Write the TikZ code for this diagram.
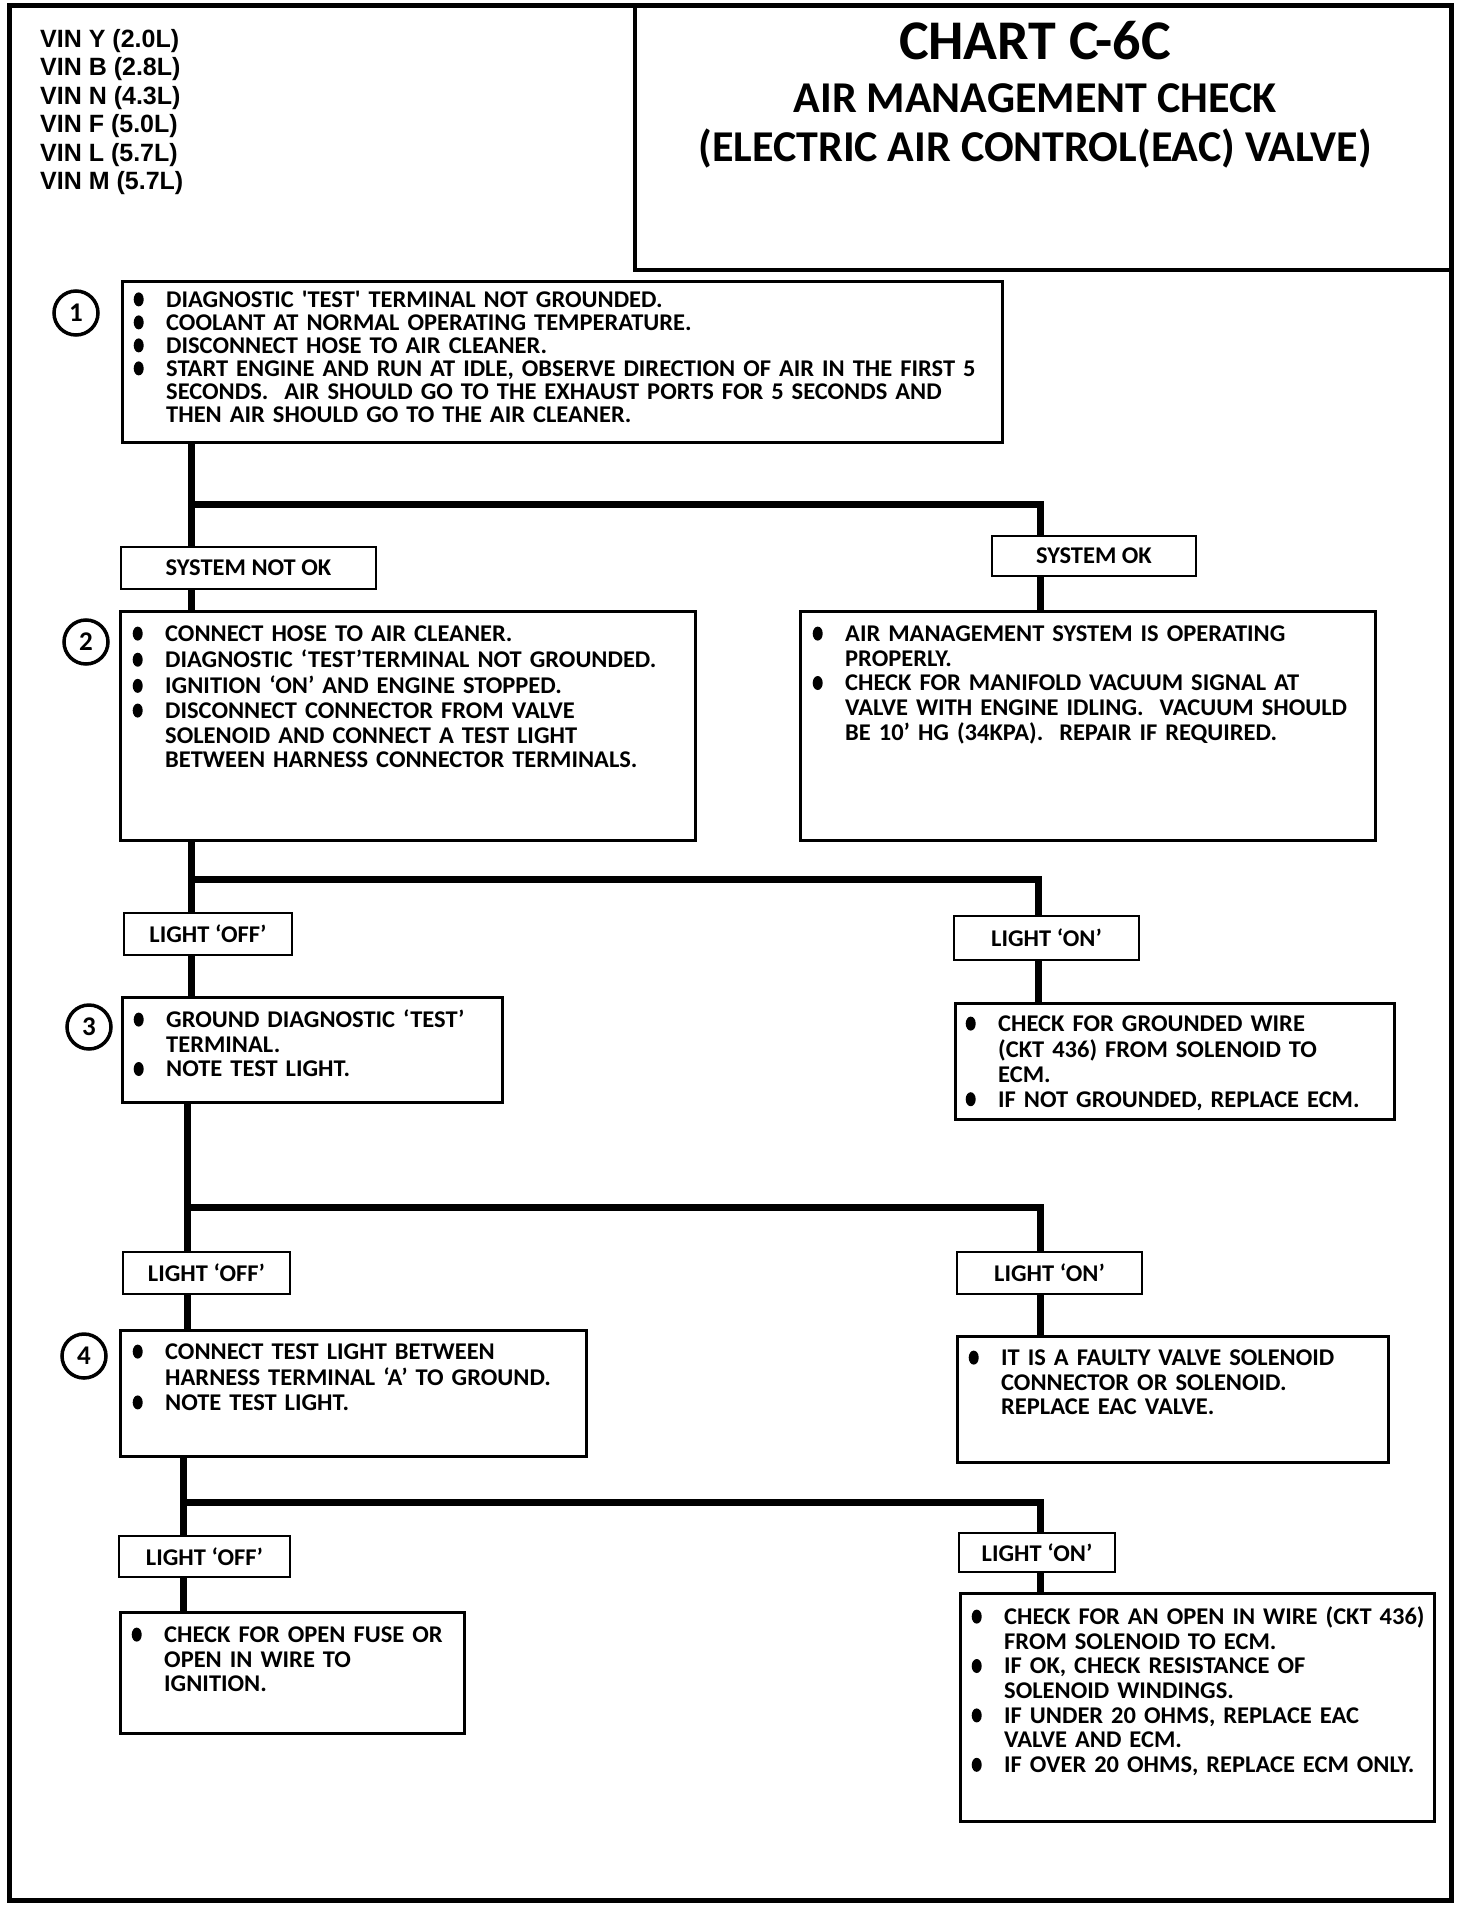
\documentclass[tikz,border=0pt]{standalone}
\usepackage{fontspec}
\newfontfamily\chartfont{Carlito}[FakeStretch=1.02]
\newfontfamily\titlefont{Carlito}
\newfontfamily\vinfont{Liberation Sans}
\usetikzlibrary{positioning}
\newcommand{\tightspaces}{\spaceskip=4.3pt plus 1pt minus 0.5pt\relax}
\newcommand{\stepdot}{\raisebox{0.8pt}{\tikz\fill (0,0) ellipse [x radius=5pt, y radius=7pt];}}
\newcommand{\itm}[1]{\par\noindent\hangindent=33pt\hangafter=1%
  \makebox[33pt][l]{\hspace{0.5pt}\stepdot}\strut#1\par}

\begin{document}
\begin{tikzpicture}[x=1pt, y=-1pt,
  frame/.style={line width=5pt},
  titlebox/.style={line width=3.5pt},
  stepbox/.style={draw, line width=2.5pt, anchor=north west, inner sep=0pt},
  steptext/.style={anchor=north west, inner sep=0pt, text width=#1, align=left,
    font=\chartfont\bfseries\fontsize{24}{24.7}\selectfont\tightspaces},
  tight/.style={font=\chartfont\bfseries\fontsize{24}{23}\selectfont\tightspaces},
  choice/.style={draw, line width=2.5pt, inner sep=0pt,
    font=\chartfont\bfseries\fontsize{24}{25}\selectfont},
  stepnum/.style={draw, circle, line width=3.5pt, minimum size=44pt, inner sep=0pt,
    font=\titlefont\bfseries\fontsize{27}{27}\selectfont},
  heading/.style={anchor=base, inner sep=0pt, font=\titlefont\bfseries\fontsize{#1}{#1}\selectfont},
  vintext/.style={anchor=north west, inner sep=0pt, align=left,
    font=\vinfont\bfseries\fontsize{25}{28.5}\selectfont},
  trunk/.style={line width=7pt, line join=miter}
]
  \path[use as bounding box, fill=white] (0,0) rectangle (1472,1924);

  % ── Frame and title block ──
  \draw[frame] (9,6) rectangle (1451,1900);
  \draw[titlebox] (635,6) rectangle (1451,270);
  \node[heading=56] (chart) at (1035,60) {CHART C-6C};
  \node[heading=44] (check) at (1035,113) {AIR MANAGEMENT CHECK};
  \node[heading=44] (valve) at (1035,161) {(ELECTRIC AIR CONTROL(EAC) VALVE)};
  \node[vintext] (vin) at (40,29) {VIN Y (2.0L)\\VIN B (2.8L)\\VIN N (4.3L)\\VIN F (5.0L)\\VIN L (5.7L)\\VIN M (5.7L)};

  % ── Step 1 ──
  \node[stepbox, minimum width=880pt, minimum height=161pt] (s1) at (121,280) {};
  \node[steptext=870pt, tight] (s1t) at (133,284) {%
    \itm{DIAGNOSTIC 'TEST' TERMINAL NOT GROUNDED.}
    \itm{COOLANT AT NORMAL OPERATING TEMPERATURE.}
    \itm{DISCONNECT HOSE TO AIR CLEANER.}
    \itm{START ENGINE AND RUN AT IDLE, OBSERVE DIRECTION OF AIR IN THE FIRST 5\newline
      SECONDS.\ \ AIR SHOULD GO TO THE EXHAUST PORTS FOR 5 SECONDS AND\newline
      THEN AIR SHOULD GO TO THE AIR CLEANER.}};
  \node[stepnum] (c1) at (76,313) {1};

  % ── System not ok / ok ──
  \node[choice, minimum width=255pt, minimum height=42pt] (nok1) at (248.5,568) {SYSTEM NOT OK};
  \node[choice, minimum width=204pt, minimum height=40pt] (ok1) at (1094,556) {SYSTEM OK};

  \node[stepbox, minimum width=575pt, minimum height=229pt] (s2) at (119,610) {};
  \node[steptext=590pt] (s2t) at (132,616.5) {%
    \itm{CONNECT HOSE TO AIR CLEANER.}
    \itm{DIAGNOSTIC ‘TEST’TERMINAL NOT GROUNDED.}
    \itm{IGNITION ‘ON’ AND ENGINE STOPPED.}
    \itm{DISCONNECT CONNECTOR FROM VALVE\newline
      SOLENOID AND CONNECT A TEST LIGHT\newline
      BETWEEN HARNESS CONNECTOR TERMINALS.}};
  \node[stepnum] (c2) at (86,642) {2};

  \node[stepbox, minimum width=575pt, minimum height=229pt] (sok) at (799,610) {};
  \node[steptext=580pt] (sokt) at (812,616.5) {%
    \itm{AIR MANAGEMENT SYSTEM IS OPERATING\newline PROPERLY.}
    \itm{CHECK FOR MANIFOLD VACUUM SIGNAL AT\newline
      VALVE WITH ENGINE IDLING.\ \ VACUUM SHOULD\newline
      BE 10’ HG (34KPA).\ \ REPAIR IF REQUIRED.}};

  % ── Step 3 / grounded wire ──
  \node[choice, minimum width=168pt, minimum height=42pt] (off1) at (208,934) {LIGHT ‘OFF’};
  \node[choice, minimum width=185pt, minimum height=44pt] (on1) at (1046.5,938) {LIGHT ‘ON’};

  \node[stepbox, minimum width=380pt, minimum height=105pt] (s3) at (121,996) {};
  \node[steptext=390pt] (s3t) at (133,1002.5) {%
    \itm{GROUND DIAGNOSTIC ‘TEST’\newline TERMINAL.}
    \itm{NOTE TEST LIGHT.}};
  \node[stepnum] (c3) at (89,1027) {3};

  \node[stepbox, minimum width=439pt, minimum height=116pt] (s3r) at (954,1002) {};
  \node[steptext=450pt] (s3rt) at (965,1006.5) {%
    \itm{CHECK FOR GROUNDED WIRE\newline
      \hspace{3pt}(CKT 436) FROM SOLENOID TO\newline ECM.}
    \itm{IF NOT GROUNDED, REPLACE ECM.}};

  % ── Step 4 / faulty solenoid ──
  \node[choice, minimum width=167pt, minimum height=42pt] (off2) at (206.5,1273) {LIGHT ‘OFF’};
  \node[choice, minimum width=185pt, minimum height=42pt] (on2) at (1049.5,1273) {LIGHT ‘ON’};

  \node[stepbox, minimum width=466pt, minimum height=126pt] (s4) at (119,1329) {};
  \node[steptext=470pt] (s4t) at (132,1334.5) {%
    \itm{CONNECT TEST LIGHT BETWEEN\newline HARNESS TERMINAL ‘A’ TO GROUND.}
    \itm{NOTE TEST LIGHT.}};
  \node[stepnum] (c4) at (84,1356) {4};

  \node[stepbox, minimum width=431pt, minimum height=126pt] (s4r) at (956,1335) {};
  \node[steptext=440pt] (s4rt) at (968,1340.5) {%
    \itm{IT IS A FAULTY VALVE SOLENOID\newline
      CONNECTOR OR SOLENOID.\newline REPLACE EAC VALVE.}};

  % ── Open fuse / open wire ──
  \node[choice, minimum width=171pt, minimum height=41pt] (off3) at (204.5,1556.5) {LIGHT ‘OFF’};
  \node[choice, minimum width=156pt, minimum height=39pt] (on3) at (1037,1552.5) {LIGHT ‘ON’};

  \node[stepbox, minimum width=344pt, minimum height=121pt] (s5) at (119,1611) {};
  \node[steptext=350pt] (s5t) at (131,1617.5) {%
    \itm{CHECK FOR OPEN FUSE OR\newline OPEN IN WIRE TO\newline IGNITION.}};

  \node[stepbox, minimum width=474pt, minimum height=228pt] (s5r) at (959,1592) {};
  \node[steptext=480pt] (s5rt) at (971,1599.5) {%
    \itm{CHECK FOR AN OPEN IN WIRE (CKT 436)\newline FROM SOLENOID TO ECM.}
    \itm{IF OK, CHECK RESISTANCE OF\newline SOLENOID WINDINGS.}
    \itm{IF UNDER 20 OHMS, REPLACE EAC\newline VALVE AND ECM.}
    \itm{IF OVER 20 OHMS, REPLACE ECM ONLY.}};

  % ── Flow lines ──
  \coordinate (j1) at (191,504);  \coordinate (k1) at (1040,504);
  \draw[trunk] (s1.south -| j1) -- (j1) -- (k1) -- (ok1.north -| k1);
  \draw[trunk] (j1) -- (nok1.north -| j1);
  \draw[trunk] (nok1.south -| j1) -- (s2.north -| j1);
  \draw[trunk] (ok1.south -| k1) -- (sok.north -| k1);

  \coordinate (j2) at (191,879);  \coordinate (k2) at (1038,879);
  \draw[trunk] (s2.south -| j2) -- (j2) -- (k2) -- (on1.north -| k2);
  \draw[trunk] (j2) -- (off1.north -| j2);
  \draw[trunk] (off1.south -| j2) -- (s3.north -| j2);
  \draw[trunk] (on1.south -| k2) -- (s3r.north -| k2);

  \coordinate (j3) at (187,1207); \coordinate (k3) at (1040,1207);
  \draw[trunk] (s3.south -| j3) -- (j3) -- (k3) -- (on2.north -| k3);
  \draw[trunk] (j3) -- (off2.north -| j3);
  \draw[trunk] (off2.south -| j3) -- (s4.north -| j3);
  \draw[trunk] (on2.south -| k3) -- (s4r.north -| k3);

  \coordinate (j4) at (183,1502); \coordinate (k4) at (1040,1502);
  \draw[trunk] (s4.south -| j4) -- (j4) -- (k4) -- (on3.north -| k4);
  \draw[trunk] (j4) -- (off3.north -| j4);
  \draw[trunk] (off3.south -| j4) -- (s5.north -| j4);
  \draw[trunk] (on3.south -| k4) -- (s5r.north -| k4);

\end{tikzpicture}
\end{document}
